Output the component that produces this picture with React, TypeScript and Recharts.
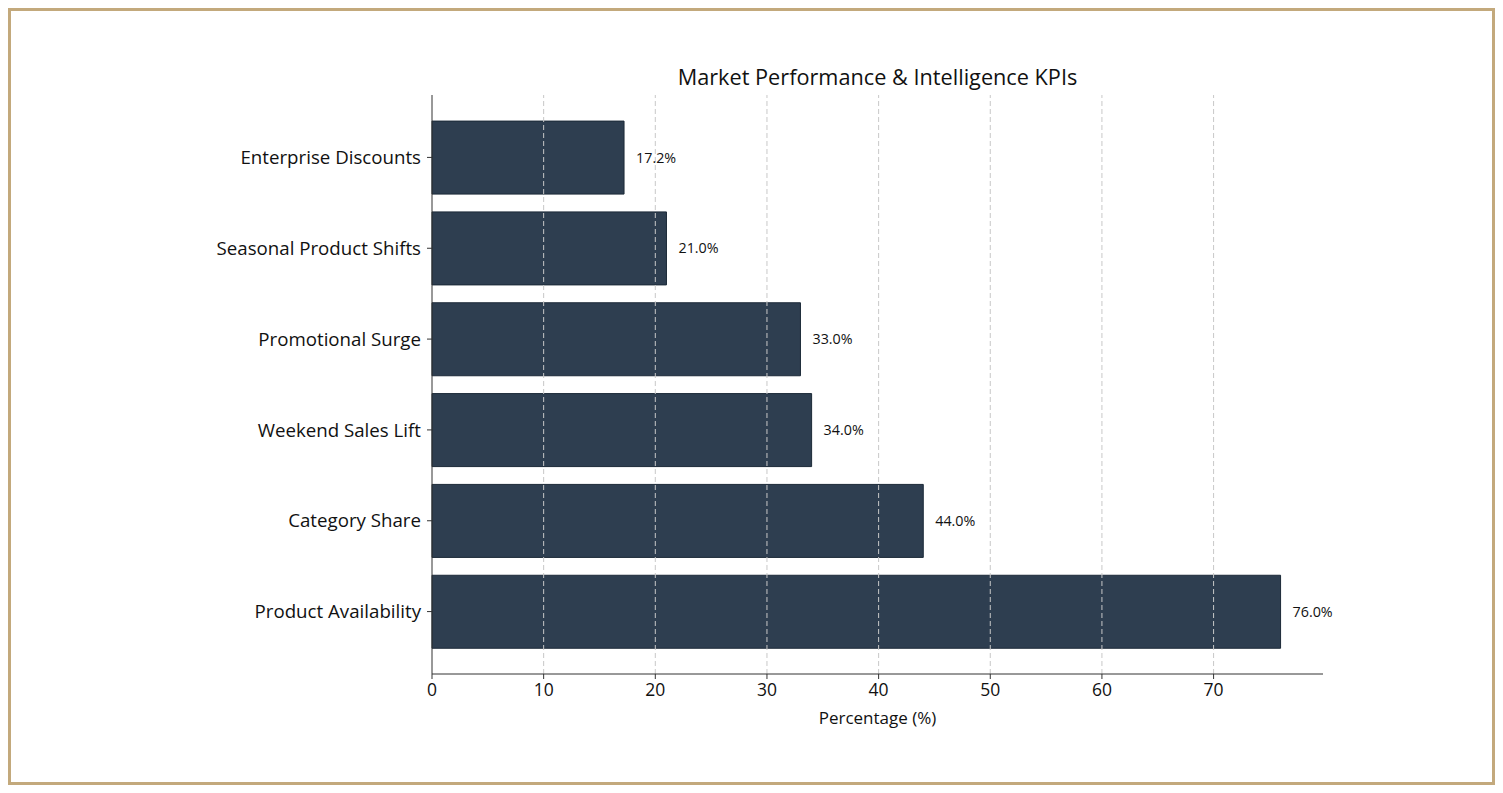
import React from "react";
import {Bar, BarChart, LabelList, ReferenceLine, XAxis, YAxis} from "recharts";

const categories = [
    "Enterprise Discounts",
    "Seasonal Product Shifts",
    "Promotional Surge",
    "Weekend Sales Lift",
    "Category Share",
    "Product Availability",
];
const values = [17.2, 21.0, 33.0, 34.0, 44.0, 76.0];
const xTicks = [0, 10, 20, 30, 40, 50, 60, 70];

const data = categories.map((name, i) => ({name, value: values[i]}));

const FONT = "'Open Sans', sans-serif";

export default function App() {
    return (
        <div style={{position: "absolute", left: 0, top: 0, width: 1503, height: 793, background: "#fff", fontFamily: FONT}}>
            <div style={{
                position: "absolute", left: 8, top: 8, width: 1481, height: 771,
                border: "3px solid #c3a97c",
            }}/>
            <div style={{
                position: "absolute", left: 432, width: 891, top: 62, textAlign: "center",
                fontSize: 21.7, lineHeight: "30px", color: "#111",
            }}>
                Market Performance &amp; Intelligence KPIs
            </div>
            <div style={{position: "absolute", left: 0, top: 0}}>
                <BarChart
                    width={1503}
                    height={793}
                    data={data}
                    layout="vertical"
                    barCategoryGap="10%"
                    margin={{top: 95, right: 180, bottom: 59, left: 212}}
                >
                    <XAxis
                        type="number"
                        domain={[0, 79.8]}
                        ticks={xTicks}
                        height={60}
                        tickSize={5}
                        tickMargin={5}
                        tick={{fill: "#111", fontSize: 17.5, fontFamily: FONT}}
                        stroke="#333"
                        label={{value: "Percentage (%)", position: "insideBottom", offset: 10, fill: "#111", fontSize: 17, fontFamily: FONT}}
                    />
                    <YAxis
                        type="category"
                        dataKey="name"
                        width={220}
                        padding={{top: 17, bottom: 17}}
                        tickSize={5}
                        tickMargin={6}
                        tick={{fill: "#111", fontSize: 18.7, fontFamily: FONT}}
                        stroke="#333"
                    />
                    <Bar dataKey="value" fill="#2e3e50" stroke="#1c2a38" strokeWidth={1} isAnimationActive={false}>
                        <LabelList
                            dataKey="value"
                            position="right"
                            offset={12}
                            formatter={(v: number) => `${v.toFixed(1)}%`}
                            style={{fill: "#111", fontSize: 14.3, fontFamily: FONT}}
                        />
                    </Bar>
                    {xTicks.slice(1).map((t) => (
                        <ReferenceLine key={t} x={t} stroke="#c8c8c8" strokeDasharray="5 3"/>
                    ))}
                </BarChart>
            </div>
        </div>
    );
}
